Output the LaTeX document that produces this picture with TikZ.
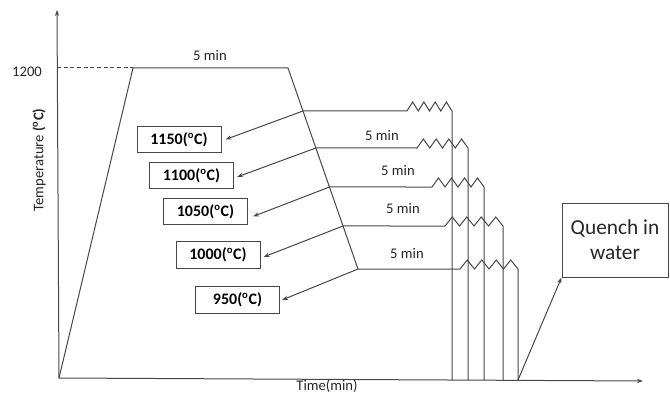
\documentclass[tikz,border=0pt]{standalone}
\usepackage{fontspec}
\setmainfont{Carlito}
\usetikzlibrary{arrows.meta,calc}
\newcommand\zigrow[4]{% #1 start point, #2 y, #3 zig start x, #4 zig end x
  \draw[ln] (#1) -- (#3,#2)
    \foreach \i in {1,2,3,4}{ -- ({#3+(\i-0.5)*(#4-#3)/4},{#2-9}) -- ({#3+\i*(#4-#3)/4},#2)}
    -- (#4,380);}
\begin{document}
\begin{tikzpicture}[x=0.75pt,y=-0.75pt,
  ln/.style={draw=black!72,line width=0.75pt},
  arr/.style={ln,-{Stealth[length=4.5pt,width=3.2pt]}},
  tbox/.style={draw=black!72,line width=0.75pt,minimum width=63pt,minimum height=20pt,inner sep=0pt,font=\fontsize{12}{14}\selectfont\bfseries},
  txt/.style={font=\fontsize{11}{13}\selectfont,text=black!85,inner sep=0pt}]
\useasboundingbox (0,0) rectangle (670,399);
% axes
\coordinate (O) at (59,378);
\coordinate (Ytop) at (57,10);
\coordinate (Xend) at (643,381);
\draw[arr] (O) -- (Ytop);
\draw[arr] (O) -- (Xend);
\node[txt,rotate=90] (ylab) at (39,160) {Temperature \textbf{(\textsuperscript{o}C)}};
\node[txt] (xlab) at (327,386) {Time(min)};
\node[txt] (t1200) at (27,72) {1200};
% heating and soaking
\coordinate (A) at (133,68);
\coordinate (B) at (288,68);
\coordinate (E) at (358,269);
\coordinate (D0) at (57,68);
\draw[ln,dash pattern=on 3pt off 2pt] (D0) -- (A);
\draw[ln] (O) -- (A) -- (B) -- (E);
\node[txt] (m0) at (210,56) {5 min};
% branch points
\coordinate (P1) at ($(B)!{(111-68)/201}!(E)$);
\coordinate (P2) at ($(B)!{(148-68)/201}!(E)$);
\coordinate (P3) at ($(B)!{(187-68)/201}!(E)$);
\coordinate (P4) at ($(B)!{(226-68)/201}!(E)$);
\coordinate (P5) at (E);
\zigrow{P1}{111}{407}{452}
\zigrow{P2}{148}{417}{468}
\zigrow{P3}{187}{432}{484}
\zigrow{P4}{226}{445}{503}
\zigrow{P5}{269}{460}{518}
\node[txt] (m2) at (382,136) {5 min};
\node[txt] (m3) at (398,171) {5 min};
\node[txt] (m4) at (403,209) {5 min};
\node[txt] (m5) at (407,254) {5 min};
% temperature boxes
\node[tbox] (b1) at (179,139.5) {1150(\textsuperscript{o}C)};
\node[tbox] (b2) at (191.5,175.5) {1100(\textsuperscript{o}C)};
\node[tbox] (b3) at (205.5,211.5) {1050(\textsuperscript{o}C)};
\node[tbox] (b4) at (218,255) {1000(\textsuperscript{o}C)};
\node[tbox] (b5) at (237.5,300) {950(\textsuperscript{o}C)};
\draw[arr] (P1) -- ([shift={(4,0)}]b1.east);
\draw[arr] (P2) -- ([shift={(3,1.5)}]b2.east);
\draw[arr] (P3) -- ([shift={(5,5)}]b3.east);
\draw[arr] (P4) -- ([shift={(3,2)}]b4.east);
\draw[arr] (P5) -- ([shift={(2,0)}]b5.east);
% quench
\node[draw=black!72,line width=0.75pt,minimum width=79.5pt,minimum height=55.5pt,inner sep=0pt,align=center,
  font=\fontsize{16}{19}\selectfont,text=black!85] (Q) at (615,240) {Quench in\\water};
\coordinate (V5) at (518,380);
\draw[arr] (V5) -- (Q.south west);
\end{tikzpicture}
\end{document}
